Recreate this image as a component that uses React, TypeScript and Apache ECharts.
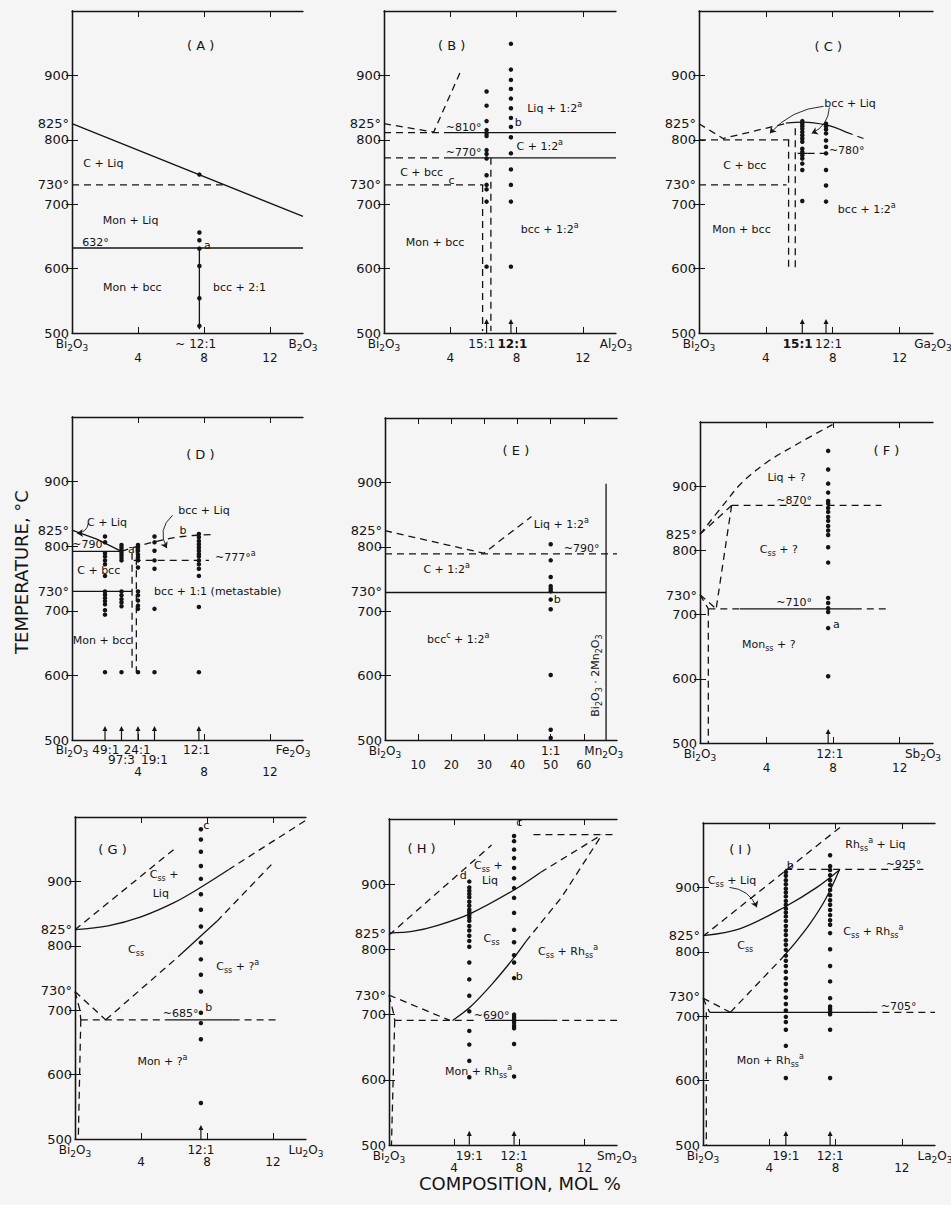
import React, { useEffect, useRef } from "react";
import * as echarts from "echarts";

type Pt = [number, number];
type Label = [number, number, string];
type Tick = [number, string];
type Col = [number, number[]];
type Pointer = [Pt, Pt, number];

const BI = "Bi{s|2}O{s|3}";
const NUM_ROW: Tick[] = [[4, "4"], [8, "8"], [12, "12"]];
const TICKS_14 = [4, 8, 12];

// ---------- (A) Bi2O3 - B2O3
const A_solid: Pt[][] = [
  [[0, 825], [14, 681]],
  [[0, 632], [14, 632]],
  [[7.72, 506], [7.72, 632]],
];
const A_dashed: Pt[][] = [[[0, 730], [9.24, 730]]];
const A_dots: Col[] = [[7.72, [746, 656, 644, 631, 604, 554, 511]]];
const A_arrows: number[] = [];
const A_labels: Label[] = [
  [1.9, 763, "C + Liq"],
  [3.55, 675, "Mon + Liq"],
  [1.42, 640, "632°"],
  [3.65, 571, "Mon + bcc"],
  [10.15, 571, "bcc + 2:1"],
  [8.2, 636, "a"],
];
const A_title: Label = [7.8, 946, "( A )"];
const A_xRow1: Tick[] = [[0, BI], [7.5, "~ 12:1"], [14, "B{s|2}O{s|3}"]];

// ---------- (B) Bi2O3 - Al2O3
const B_solid: Pt[][] = [
  [[3.8, 811], [14, 811]],
  [[3.8, 772], [14, 772]],
];
const B_dashed: Pt[][] = [
  [[0, 825], [3.0, 812], [4.6, 905]],
  [[0, 811], [3.8, 811]],
  [[0, 772], [3.8, 772]],
  [[0, 730], [6.0, 730]],
  [[5.95, 730], [5.95, 503]],
  [[6.45, 772], [6.45, 503]],
];
const B_dots: Col[] = [
  [6.19, [875, 853, 829, 815, 810, 806, 784, 778, 771, 745, 730, 723, 704, 603]],
  [7.66, [949, 909, 893, 879, 864, 849, 834, 820, 804, 779, 754, 730, 704, 603]],
];
const B_arrows: number[] = [6.19, 7.66];
const B_labels: Label[] = [
  [10.3, 848, "Liq + 1:2{p|a}"],
  [8.1, 827, "b"],
  [4.8, 819, "~810°"],
  [9.4, 789, "C + 1:2{p|a}"],
  [4.8, 780, "~770°"],
  [2.27, 749, "C + bcc"],
  [4.08, 737, "c"],
  [3.08, 640, "Mon + bcc"],
  [10, 660, "bcc + 1:2{p|a}"],
];
const B_title: Label = [4.08, 946, "( B )"];
const B_xRow1: Tick[] = [[0, BI], [5.9, "15:1"], [7.75, "{bd|12:1}"], [14, "Al{s|2}O{s|3}"]];

// ---------- (C) Bi2O3 - Ga2O3
const C_solid: Pt[][] = [
  [[5.2, 826], [6.2, 827.5], [7.6, 823], [8.8, 812]],
  [[5.9, 779], [6.5, 779]],
];
const C_dashed: Pt[][] = [
  [[0, 825], [1.44, 802], [5.3, 826]],
  [[8.8, 812], [9.84, 802]],
  [[0, 800], [5.4, 800]],
  [[0, 730], [5.24, 730]],
  [[5.36, 800], [5.36, 600]],
  [[5.76, 818], [5.76, 600]],
  [[6.5, 779], [7.84, 779]],
];
const C_dots: Col[] = [
  [6.18, [829, 825, 821, 817, 812, 807, 802, 797, 786, 781, 776, 771, 763, 753, 705]],
  [7.6, [825, 821, 816, 810, 799, 789, 779, 753, 729, 704]],
];
const C_arrows: number[] = [6.18, 7.6];
const C_labels: Label[] = [
  [9.04, 856, "bcc + Liq"],
  [8.84, 784, "~780°"],
  [2.74, 760, "C + bcc"],
  [2.54, 660, "Mon + bcc"],
  [10.04, 692, "bcc + 1:2{p|a}"],
];
const C_pointers: Pointer[] = [
  [[7.45, 852], [4.24, 810], -0.2],
  [[7.8, 850], [6.74, 810], 0.3],
];
const C_title: Label = [7.74, 945, "( C )"];
const C_xRow1: Tick[] = [[0, BI], [5.9, "{bd|15:1}"], [7.75, "12:1"], [14, "Ga{s|2}O{s|3}"]];

// ---------- (D) Bi2O3 - Fe2O3
const D_solid: Pt[][] = [
  [[0, 825], [1.5, 811], [3.0, 792]],
  [[0, 792], [3.0, 792]],
  [[0, 730], [3.64, 730]],
];
const D_dashed: Pt[][] = [
  [[3.0, 792], [4, 800], [5.2, 808], [6.7, 815], [8.4, 818]],
  [[3.74, 778], [8.3, 778]],
  [[3.64, 790], [3.64, 605]],
  [[3.9, 800], [3.9, 605]],
];
const D_dots: Col[] = [
  [2, [815, 806, 789, 784, 778, 772, 754, 730, 725, 720, 715, 710, 701, 694, 605]],
  [3, [802, 798, 794, 790, 786, 782, 778, 730, 724, 718, 713, 707, 605]],
  [4, [802, 798, 793, 787, 783, 778, 767, 730, 724, 716, 708, 703, 605]],
  [5, [815, 806, 793, 778, 765, 703, 605]],
  [7.69, [819, 814, 808, 803, 798, 793, 788, 784, 778, 772, 765, 754, 706, 605]],
];
const D_arrows: number[] = [2, 3, 4, 5, 7.69];
const D_labels: Label[] = [
  [2.12, 837, "C + Liq"],
  [1.1, 802, "~790°"],
  [1.62, 762, "C + bcc"],
  [8.0, 856, "bcc + Liq"],
  [6.73, 824, "b"],
  [9.9, 783, "~777°{p|a}"],
  [8.83, 730, "bcc + 1:1 (metastable)"],
  [1.82, 654, "Mon + bcc"],
  [3.6, 795, "a"],
];
const D_pointers: Pointer[] = [
  [[1.0, 836], [0.3, 820], 0.4],
  [[6.1, 848], [5.75, 797], -0.4],
];
const D_title: Label = [7.78, 942, "( D )"];
const D_xRow1: Tick[] = [[0, BI], [2.05, "49:1"], [3.95, "24:1"], [7.55, "12:1"], [13.4, "Fe{s|2}O{s|3}"]];
const D_xRow2: Tick[] = [[3.0, "97:3"], [5.0, "19:1"]];

// ---------- (E) Bi2O3 - Mn2O3
const E_solid: Pt[][] = [
  [[0, 729], [66.7, 729]],
  [[66.7, 500], [66.7, 898]],
];
const E_dashed: Pt[][] = [
  [[0, 825], [29.8, 790], [44.2, 847]],
  [[0, 789], [70, 789]],
];
const E_dots: Col[] = [[50, [804, 779, 753, 739, 735, 731, 718, 703, 601, 516, 503]]];
const E_arrows: number[] = [];
const E_labels: Label[] = [
  [53.2, 835, "Liq + 1:2{p|a}"],
  [59.3, 797, "~790°"],
  [18.6, 765, "C + 1:2{p|a}"],
  [22.1, 656, "bcc{p|c} + 1:2{p|a}"],
  [52, 718, "b"],
];
const E_vlabel: Label = [63.6, 600, "Bi{s|2}O{s|3} · 2Mn{s|2}O{s|3}"];
const E_title: Label = [39.5, 949, "( E )"];
const E_xRow1: Tick[] = [[0, BI], [50, "1:1"], [66, "Mn{s|2}O{s|3}"]];
const E_xRow2: Tick[] = [[10, "10"], [20, "20"], [30, "30"], [40, "40"], [50, "50"], [60, "60"]];
const E_ticks = [10, 20, 30, 40, 50, 60];

// ---------- (F) Bi2O3 - Sb2O3
const F_solid: Pt[][] = [[[2.4, 709], [9.3, 709]]];
const F_dashed: Pt[][] = [
  [[0, 825], [1.5, 874], [2.5, 905], [4, 937], [6, 968], [7.96, 996]],
  [[0, 825], [1.9, 870]],
  [[1.9, 870], [10.9, 870]],
  [[1.9, 870], [0.97, 709]],
  [[0, 731], [0.97, 709]],
  [[0, 731], [0.5, 709]],
  [[0.5, 709], [2.4, 709]],
  [[9.3, 709], [11.4, 709]],
  [[0.5, 709], [0.5, 500]],
];
const F_dots: Col[] = [[7.7, [955, 926, 904, 890, 877, 873, 866, 860, 852, 846, 838, 831, 824, 805, 781, 726, 718, 710, 704, 679, 604]]];
const F_arrows: number[] = [7.7];
const F_labels: Label[] = [
  [5.2, 913, "Liq + ?"],
  [5.65, 878, "~870°"],
  [4.74, 802, "C{s|ss} + ?"],
  [5.65, 719, "~710°"],
  [8.2, 684, "a"],
  [4.13, 653, "Mon{s|ss} + ?"],
];
const F_title: Label = [11.2, 956, "( F )"];
const F_xRow1: Tick[] = [[0, BI], [7.8, "12:1"], [13.4, "Sb{s|2}O{s|3}"]];

// ---------- (G) Bi2O3 - Lu2O3
const G_solid: Pt[][] = [
  [[0, 825], [2, 831], [4, 845], [6, 867], [7.7, 892], [9.3, 918]],
  [[6.3, 784], [8.6, 838]],
  [[5.5, 685], [9.55, 685]],
];
const G_dashed: Pt[][] = [
  [[0, 825], [6.2, 954]],
  [[9.3, 918], [11, 946], [14, 995]],
  [[1.86, 685], [6.3, 784]],
  [[8.6, 838], [11.9, 926]],
  [[0, 729], [1.86, 685]],
  [[0, 729], [0.3, 700], [0.35, 685]],
  [[0.35, 685], [0.2, 500]],
  [[0.35, 685], [5.5, 685]],
  [[9.55, 685], [12.3, 685]],
];
const G_dots: Col[] = [[7.63, [981, 965, 946, 924, 904, 880, 856, 830, 805, 779, 755, 729, 696, 680, 655, 556]]];
const G_arrows: number[] = [7.63];
const G_labels: Label[] = [
  [5.4, 910, "C{s|ss} +"],
  [5.2, 881, "Liq"],
  [3.7, 794, "C{s|ss}"],
  [9.86, 768, "C{s|ss} + ?{p|a}"],
  [6.4, 695, "~685°"],
  [8.1, 704, "b"],
  [7.95, 987, "c"],
  [5.3, 620, "Mon + ?{p|a}"],
];
const G_title: Label = [2.27, 950, "( G )"];
const G_xRow1: Tick[] = [[0, BI], [7.63, "12:1"], [14, "Lu{s|2}O{s|3}"]];

// ---------- (H) Bi2O3 - Sm2O3
const H_solid: Pt[][] = [
  [[0, 825], [1.5, 828], [3, 837], [5, 855], [7.6, 890], [9.3, 918]],
  [[3.9, 691], [5, 712], [6.3, 746], [7.6, 785], [8.4, 812]],
  [[5.9, 691], [9.9, 691]],
];
const H_dashed: Pt[][] = [
  [[0, 822], [6.3, 960]],
  [[9.3, 918], [13.08, 976]],
  [[8.4, 812], [10.6, 880], [13.08, 976]],
  [[8.87, 976], [14, 976]],
  [[0, 730], [3.74, 691]],
  [[0, 730], [0.3, 700], [0.35, 691]],
  [[0.35, 691], [0.15, 500]],
  [[0.35, 691], [5.3, 691]],
  [[9.9, 691], [14, 691]],
];
const H_dots: Col[] = [
  [4.93, [904, 895, 890, 885, 880, 873, 867, 861, 857, 853, 849, 844, 836, 829, 821, 813, 804, 780, 754, 729, 705, 675, 654, 629, 604]],
  [7.68, [974, 966, 953, 940, 925, 909, 894, 879, 856, 830, 811, 791, 780, 756, 700, 696, 692, 688, 683, 679, 655, 605]],
];
const H_arrows: number[] = [4.93, 7.68];
const H_labels: Label[] = [
  [6.1, 928, "C{s|ss} +"],
  [6.2, 906, "Liq"],
  [4.56, 913, "d"],
  [8.0, 994, "c"],
  [6.3, 817, "C{s|ss}"],
  [11, 797, "C{s|ss} + Rh{s|ss}{p|a}"],
  [8.0, 758, "b"],
  [6.3, 698, "~690°"],
  [5.5, 613, "Mon + Rh{s|ss}{p|a}"],
];
const H_title: Label = [2.0, 954, "( H )"];
const H_xRow1: Tick[] = [[0, BI], [4.93, "19:1"], [7.68, "12:1"], [14, "Sm{s|2}O{s|3}"]];

// ---------- (I) Bi2O3 - La2O3
const I_solid: Pt[][] = [
  [[0, 825], [2.25, 836], [4.96, 870], [6.87, 900], [8.23, 927]],
  [[4.76, 790], [5.6, 815], [6.47, 844], [7.4, 882], [8.23, 927]],
  [[0.4, 706], [10.1, 706]],
];
const I_dashed: Pt[][] = [
  [[0, 824], [8.5, 998]],
  [[4.96, 928], [13.3, 928]],
  [[1.65, 706], [4.76, 790]],
  [[0, 728], [1.65, 706]],
  [[10.1, 706], [14, 706]],
  [[0, 728], [0.4, 706]],
  [[0.2, 706], [0.2, 500]],
];
const I_dots: Col[] = [
  [5, [924, 918, 911, 905, 898, 892, 886, 879, 873, 867, 861, 855, 848, 840, 833, 826, 818, 811, 803, 794, 786, 778, 769, 759, 750, 740, 729, 719, 709, 699, 691, 679, 654, 604]],
  [7.67, [950, 933, 927, 919, 911, 904, 896, 888, 880, 873, 865, 857, 849, 842, 829, 804, 778, 754, 728, 715, 711, 707, 703, 679, 604]],
];
const I_arrows: number[] = [5, 7.67];
const I_labels: Label[] = [
  [10.4, 966, "Rh{s|ss}{p|a} + Liq"],
  [12.1, 936, "~925°"],
  [5.26, 934, "b"],
  [1.75, 911, "C{s|ss} + Liq"],
  [10.28, 831, "C{s|ss} + Rh{s|ss}{p|a}"],
  [2.55, 810, "C{s|ss}"],
  [11.8, 715, "~705°"],
  [4.06, 631, "Mon + Rh{s|ss}{p|a}"],
];
const I_pointers: Pointer[] = [[[1.6, 900], [3.25, 869], 0.3]];
const I_title: Label = [2.25, 959, "( I )"];
const I_xRow1: Tick[] = [[0, BI], [5, "19:1"], [7.67, "12:1"], [14, "La{s|2}O{s|3}"]];

const Y_LABELS = [500, 600, 700, 730, 800, 825, 900];
const Y_TICKS = [600, 700, 800, 900];

// ---------- styling / layout
const INK = "#141414";
const FONT = "DejaVu Sans";
const DASH = [7, 5];
const ARROW_T = 511;
const ARROW_PATH = "path://M3,0 L6,5.5 L3.7,5.5 L3.7,15 L2.3,15 L2.3,5.5 L0,5.5 Z";

interface Row { ticks: Tick[]; margin: number; }
interface Panel {
  rect: [number, number, number, number];
  xMax: number;
  xTicks: number[];
  rows: Row[];
  solid: Pt[][];
  dashed: Pt[][];
  dots: Col[];
  arrows: number[];
  labels: Label[];
  title: Label;
  pointers?: Pointer[];
  vlabel?: Label;
}

const topRows = (r1: Tick[]): Row[] => [
  { ticks: r1, margin: 3 },
  { ticks: NUM_ROW, margin: 17 },
];
const lowRows = (r1: Tick[]): Row[] => [
  { ticks: r1, margin: 3 },
  { ticks: NUM_ROW, margin: 15 },
];

const panels: Panel[] = [
  { rect: [72, 11, 231, 322], xMax: 14, xTicks: TICKS_14, rows: topRows(A_xRow1), solid: A_solid, dashed: A_dashed, dots: A_dots, arrows: A_arrows, labels: A_labels, title: A_title },
  { rect: [384, 11, 232, 322], xMax: 14, xTicks: TICKS_14, rows: topRows(B_xRow1), solid: B_solid, dashed: B_dashed, dots: B_dots, arrows: B_arrows, labels: B_labels, title: B_title },
  { rect: [699, 11, 234, 322], xMax: 14, xTicks: TICKS_14, rows: topRows(C_xRow1), solid: C_solid, dashed: C_dashed, dots: C_dots, arrows: C_arrows, labels: C_labels, title: C_title, pointers: C_pointers },
  { rect: [72, 417, 231, 323], xMax: 14, xTicks: TICKS_14, rows: [{ ticks: D_xRow1, margin: 2 }, { ticks: D_xRow2, margin: 12 }, { ticks: NUM_ROW, margin: 24 }], solid: D_solid, dashed: D_dashed, dots: D_dots, arrows: D_arrows, labels: D_labels, title: D_title, pointers: D_pointers },
  { rect: [385, 418, 232, 322], xMax: 70, xTicks: E_ticks, rows: [{ ticks: E_xRow1, margin: 3 }, { ticks: E_xRow2, margin: 17 }], solid: E_solid, dashed: E_dashed, dots: E_dots, arrows: E_arrows, labels: E_labels, title: E_title, vlabel: E_vlabel },
  { rect: [700, 422, 233, 321], xMax: 14, xTicks: TICKS_14, rows: topRows(F_xRow1), solid: F_solid, dashed: F_dashed, dots: F_dots, arrows: F_arrows, labels: F_labels, title: F_title },
  { rect: [75, 817, 231, 322], xMax: 14, xTicks: TICKS_14, rows: lowRows(G_xRow1), solid: G_solid, dashed: G_dashed, dots: G_dots, arrows: G_arrows, labels: G_labels, title: G_title },
  { rect: [389, 819, 228, 326], xMax: 14, xTicks: TICKS_14, rows: lowRows(H_xRow1), solid: H_solid, dashed: H_dashed, dots: H_dots, arrows: H_arrows, labels: H_labels, title: H_title },
  { rect: [703, 823, 232, 322], xMax: 14, xTicks: TICKS_14, rows: lowRows(I_xRow1), solid: I_solid, dashed: I_dashed, dots: I_dots, arrows: I_arrows, labels: I_labels, title: I_title, pointers: I_pointers },
];

// rich styles for ECharts label models (use "color")
const rich = (base: number) => ({
  s: { fontSize: Math.round(base * 0.72), lineHeight: 10, verticalAlign: "bottom", fontFamily: FONT, color: INK },
  p: { fontSize: Math.round(base * 0.72), lineHeight: 10, verticalAlign: "top", fontFamily: FONT, color: INK },
  bd: { fontSize: base, lineHeight: 16, fontWeight: "bold", fontFamily: FONT, color: INK },
});
// rich styles for raw zrender text (use "fill")
const richZ = (base: number) => ({
  s: { fontSize: Math.round(base * 0.72), lineHeight: 10, verticalAlign: "bottom", fontFamily: FONT, fill: INK },
  p: { fontSize: Math.round(base * 0.72), lineHeight: 10, verticalAlign: "top", fontFamily: FONT, fill: INK },
});

function buildOption() {
  const grid: any[] = [];
  const xAxis: any[] = [];
  const yAxis: any[] = [];
  const series: any[] = [];
  const axisLine = { show: true, lineStyle: { color: INK, width: 1.3 } };

  panels.forEach((p, gi) => {
    grid.push({ left: p.rect[0], top: p.rect[1], width: p.rect[2], height: p.rect[3], containLabel: false, outerBoundsMode: "none" });
    const base = { type: "value", gridIndex: gi, min: 0, max: p.xMax, splitLine: { show: false } };
    const xi = xAxis.length;
    p.rows.forEach((row, ri) => {
      const map = row.ticks;
      xAxis.push({
        ...base,
        position: "bottom",
        axisLine: ri === 0 ? axisLine : { show: false },
        axisTick: ri === 0 ? { show: true, inside: true, length: 6, customValues: p.xTicks, lineStyle: { color: INK, width: 1 } } : { show: false },
        axisLabel: {
          show: true,
          customValues: map.map((t) => t[0]),
          formatter: (v: number) => {
            const f = map.find((t) => Math.abs(t[0] - v) < 1e-6);
            return f ? f[1] : "";
          },
          margin: row.margin,
          hideOverlap: false,
          showMinLabel: true,
          showMaxLabel: true,
          fontFamily: FONT,
          fontSize: 12,
          lineHeight: 16,
          color: INK,
          rich: rich(12),
        },
      });
    });
    xAxis.push({
      ...base,
      position: "top",
      axisLine,
      axisTick: { show: true, inside: true, length: 6, customValues: p.xTicks, lineStyle: { color: INK, width: 1 } },
      axisLabel: { show: false },
    });
    const yi = yAxis.length;
    const ybase = { type: "value", gridIndex: gi, min: 500, max: 1000, splitLine: { show: false } };
    yAxis.push({
      ...ybase,
      position: "left",
      axisLine,
      axisTick: { show: true, inside: true, length: 6, customValues: Y_TICKS, lineStyle: { color: INK, width: 1 } },
      axisLabel: {
        show: true,
        customValues: Y_LABELS,
        formatter: (v: number) => (v === 730 || v === 825 ? v + "°" : String(v)),
        margin: 3,
        fontFamily: FONT,
        fontSize: 13,
        color: INK,
        hideOverlap: false,
      },
    });
    yAxis.push({
      ...ybase,
      position: "right",
      axisLine,
      axisTick: { show: true, inside: true, length: 6, customValues: Y_TICKS, lineStyle: { color: INK, width: 1 } },
      axisLabel: { show: false },
    });

    const line = (pts: Pt[], dashed: boolean) => ({
      type: "line",
      xAxisIndex: xi,
      yAxisIndex: yi,
      data: pts,
      silent: true,
      symbol: "none",
      showSymbol: false,
      smooth: pts.length >= 4 ? 0.35 : false,
      lineStyle: { color: INK, width: 1.3, type: dashed ? DASH : "solid", opacity: 1 },
      z: 3,
    });
    p.solid.forEach((pts) => series.push(line(pts, false)));
    p.dashed.forEach((pts) => series.push(line(pts, true)));

    const dotData: Pt[] = [];
    p.dots.forEach(([x, ts]) => ts.forEach((t) => dotData.push([x, t])));
    series.push({
      type: "scatter",
      xAxisIndex: xi,
      yAxisIndex: yi,
      silent: true,
      symbol: "circle",
      symbolSize: 4.5,
      itemStyle: { color: INK, opacity: 1 },
      data: dotData,
      z: 4,
    });
    if (p.arrows.length) {
      series.push({
        type: "scatter",
        xAxisIndex: xi,
        yAxisIndex: yi,
        silent: true,
        symbol: ARROW_PATH,
        symbolSize: [5, 14],
        itemStyle: { color: INK, opacity: 1 },
        data: p.arrows.map((x) => [x, ARROW_T]),
        z: 4,
      });
    }
    // text labels placed through the axes' scales by a custom series
    const textSeries = (items: Label[], fontSize: number, rotation = 0) => ({
      type: "custom",
      coordinateSystem: "cartesian2d",
      xAxisIndex: xi,
      yAxisIndex: yi,
      silent: true,
      clip: false,
      data: items.map((l) => [l[0], l[1]]),
      renderItem: (params: any, api: any) => {
        const c = api.coord([api.value(0), api.value(1)]);
        return {
          type: "text",
          x: c[0],
          y: c[1],
          rotation,
          style: {
            text: items[params.dataIndex][2],
            fill: INK,
            fontFamily: FONT,
            fontSize,
            lineHeight: 16,
            align: "center",
            verticalAlign: "middle",
            rich: richZ(fontSize),
          },
        };
      },
      z: 6,
    });
    series.push(textSeries(p.labels, 11));
    series.push(textSeries([p.title], 13));
    if (p.vlabel) series.push(textSeries([p.vlabel], 11, Math.PI / 2));
    if (p.pointers) {
      p.pointers.forEach(([a, b, c]) => {
        series.push({
          type: "lines",
          coordinateSystem: "cartesian2d",
          xAxisIndex: xi,
          yAxisIndex: yi,
          silent: true,
          symbol: ["none", "arrow"],
          symbolSize: 6,
          lineStyle: { color: INK, width: 0.9, curveness: c, opacity: 1 },
          data: [{ coords: [a, b] }],
          z: 5,
        });
      });
    }
  });

  return {
    animation: false,
    backgroundColor: "#f5f5f5",
    textStyle: { fontFamily: FONT },
    grid,
    xAxis,
    yAxis,
    series,
    graphic: [
      {
        type: "text",
        x: 21,
        y: 572,
        rotation: Math.PI / 2,
        style: { text: "TEMPERATURE, °C", fontFamily: FONT, fontSize: 18, fill: INK, textAlign: "center", textVerticalAlign: "middle" },
      },
      {
        type: "text",
        x: 520,
        y: 1183,
        style: { text: "COMPOSITION, MOL %", fontFamily: FONT, fontSize: 18, fill: INK, textAlign: "center", textVerticalAlign: "middle" },
      },
    ],
  };
}

export default function App() {
  const ref = useRef<HTMLDivElement>(null);
  useEffect(() => {
    if (!ref.current) return;
    const chart = echarts.init(ref.current, null, { renderer: "svg" });
    chart.setOption(buildOption() as any);
    return () => chart.dispose();
  }, []);
  return <div ref={ref} style={{ position: "absolute", left: 0, top: 0, width: 951, height: 1205 }} />;
}
